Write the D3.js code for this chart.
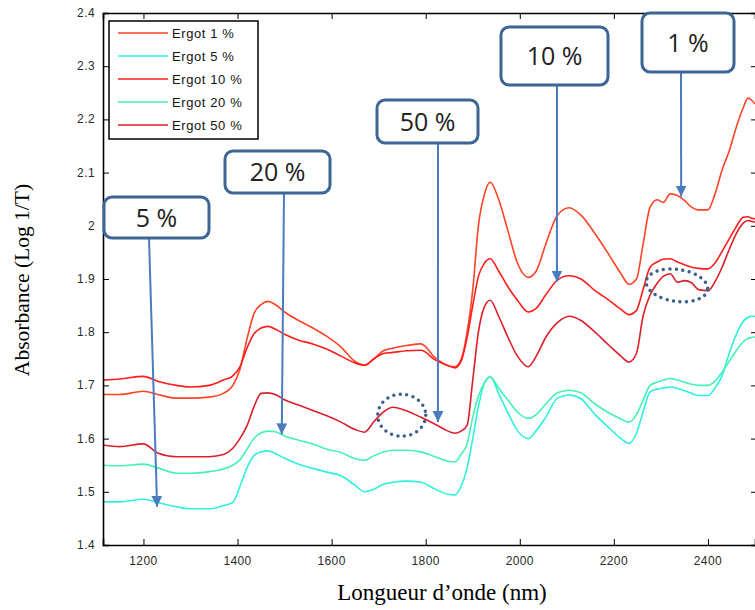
<!DOCTYPE html>
<html>
<head>
<meta charset="utf-8">
<script src="https://cdnjs.cloudflare.com/ajax/libs/d3/7.8.5/d3.min.js"></script>
<style>
	body { margin: 0; background: #fff; }
	svg { display: block; }
</style>
</head>
<body>
<svg id="chart" width="755" height="610"></svg>
<script>
// 波长 (nm)，所有曲线共用
var wavelengths = [1114, 1150, 1200, 1230, 1270, 1300, 1340, 1370, 1390, 1405, 1420, 1435, 1450, 1465, 1480, 1500, 1530, 1560, 1590, 1620,
	1650, 1670, 1690, 1710, 1730, 1760, 1790, 1820, 1845, 1862, 1875, 1888, 1900, 1912, 1925, 1937, 1955, 1975, 1995, 2018,
	2035, 2055, 2080, 2105, 2130, 2160, 2190, 2215, 2232, 2248, 2262, 2277, 2292, 2305, 2320, 2335, 2350, 2365, 2380, 2400,
	2415, 2430, 2445, 2460, 2475, 2485, 2493, 2500];

var ergot1 = [1.683, 1.683, 1.689, 1.683, 1.676, 1.676, 1.678, 1.685, 1.700, 1.730, 1.787, 1.835, 1.852, 1.858, 1.852, 1.838, 1.822, 1.808, 1.792, 1.772,
	1.745, 1.738, 1.750, 1.765, 1.770, 1.775, 1.778, 1.752, 1.738, 1.735, 1.748, 1.800, 1.880, 2.000, 2.060, 2.082, 2.050, 1.990, 1.930, 1.903,
	1.915, 1.965, 2.020, 2.034, 2.020, 1.985, 1.945, 1.910, 1.890, 1.900, 1.965, 2.035, 2.049, 2.044, 2.060, 2.057, 2.048, 2.035, 2.030, 2.030,
	2.060, 2.105, 2.140, 2.185, 2.222, 2.240, 2.236, 2.229];

var ergot5 = [1.481, 1.481, 1.486, 1.480, 1.472, 1.468, 1.468, 1.474, 1.480, 1.510, 1.545, 1.568, 1.575, 1.577, 1.572, 1.563, 1.552, 1.544, 1.537, 1.530,
	1.512, 1.500, 1.505, 1.514, 1.518, 1.520, 1.518, 1.505, 1.496, 1.494, 1.510, 1.545, 1.600, 1.660, 1.705, 1.716, 1.685, 1.648, 1.615, 1.600,
	1.615, 1.640, 1.676, 1.682, 1.675, 1.645, 1.620, 1.600, 1.591, 1.610, 1.650, 1.688, 1.693, 1.695, 1.697, 1.694, 1.690, 1.685, 1.681, 1.681,
	1.695, 1.718, 1.760, 1.795, 1.820, 1.828, 1.830, 1.830];

var ergot10 = [1.710, 1.712, 1.717, 1.708, 1.700, 1.697, 1.700, 1.710, 1.718, 1.735, 1.770, 1.797, 1.808, 1.811, 1.806, 1.796, 1.785, 1.778, 1.768, 1.755,
	1.742, 1.738, 1.750, 1.760, 1.762, 1.765, 1.766, 1.748, 1.738, 1.733, 1.745, 1.790, 1.850, 1.905, 1.930, 1.938, 1.915, 1.885, 1.860, 1.838,
	1.845, 1.870, 1.898, 1.906, 1.900, 1.878, 1.860, 1.843, 1.833, 1.841, 1.880, 1.922, 1.932, 1.937, 1.938, 1.932, 1.927, 1.922, 1.920, 1.919,
	1.930, 1.952, 1.975, 1.998, 2.016, 2.017, 2.014, 2.013];

var ergot20 = [1.550, 1.549, 1.552, 1.545, 1.535, 1.535, 1.538, 1.543, 1.550, 1.560, 1.580, 1.600, 1.611, 1.614, 1.613, 1.605, 1.597, 1.590, 1.580, 1.574,
	1.562, 1.559, 1.568, 1.575, 1.578, 1.578, 1.575, 1.566, 1.558, 1.556, 1.570, 1.590, 1.640, 1.680, 1.705, 1.716, 1.695, 1.672, 1.650, 1.638,
	1.645, 1.665, 1.686, 1.691, 1.686, 1.665, 1.648, 1.637, 1.631, 1.645, 1.672, 1.700, 1.706, 1.710, 1.713, 1.710, 1.706, 1.702, 1.700, 1.700,
	1.708, 1.725, 1.745, 1.765, 1.782, 1.788, 1.790, 1.791];

var ergot50 = [1.588, 1.585, 1.590, 1.573, 1.566, 1.566, 1.566, 1.570, 1.582, 1.600, 1.624, 1.660, 1.685, 1.686, 1.683, 1.673, 1.663, 1.653, 1.643, 1.631,
	1.617, 1.612, 1.632, 1.650, 1.659, 1.652, 1.640, 1.627, 1.615, 1.610, 1.614, 1.625, 1.710, 1.800, 1.848, 1.860, 1.830, 1.790, 1.755, 1.735,
	1.755, 1.790, 1.818, 1.830, 1.822, 1.800, 1.775, 1.755, 1.744, 1.760, 1.830, 1.870, 1.892, 1.905, 1.910, 1.894, 1.897, 1.893, 1.880, 1.878,
	1.895, 1.922, 1.955, 1.985, 2.005, 2.010, 2.008, 2.007];

var seriesNames = ["Ergot 1 %", "Ergot 5 %", "Ergot 10 %", "Ergot 20 %", "Ergot 50 %"];
var seriesValues = [ergot1, ergot5, ergot10, ergot20, ergot50];

var xTicks = [1200, 1400, 1600, 1800, 2000, 2200, 2400];
var xTickLabels = ["1200", "1400", "1600", "1800", "2000", "2200", "2400"];
var yTicks = [1.4, 1.5, 1.6, 1.7, 1.8, 1.9, 2.0, 2.1, 2.2, 2.3, 2.4];
var yTickLabels = ["1.4", "1.5", "1.6", "1.7", "1.8", "1.9", "2", "2.1", "2.2", "2.3", "2.4"];

// 标注：文字与箭头指向的点 (波长, 吸光度)
var calloutLabels = ["5 %", "20 %", "50 %", "10 %", "1 %"];
var calloutTargets = [[1229, 1.472], [1494, 1.608], [1826, 1.631], [2079, 1.895], [2343, 2.055]];
// 虚线圈的中心 (波长, 吸光度)
var circleCenters = [[1749, 1.644], [2334, 1.888]];

var svg = d3.select("#chart");

var x = d3.scaleLinear().domain([1114, 2500]).range([103, 755]);
var y = d3.scaleLinear().domain([1.4, 2.4]).range([545, 13]);

var colors = ["#ff4326", "#2ff0e0", "#ff1c1c", "#45f2b2", "#dc1f2b"];

// 曲线
var line = d3.line()
	.curve(d3.curveMonotoneX)
	.x(function (d) { return x(d[0]); })
	.y(function (d) { return y(d[1]); });

seriesValues.forEach(function (vals, i) {
	svg.append("path")
		.datum(wavelengths.map(function (w, j) { return [w, vals[j]]; }))
		.attr("d", line)
		.attr("fill", "none")
		.attr("stroke", colors[i])
		.attr("stroke-width", 1.6);
});

// 坐标轴（刻度朝内）
var axisFont = "'Liberation Sans', Arial, sans-serif";
svg.append("g")
	.attr("transform", "translate(0,545)")
	.call(d3.axisTop(x).tickValues(xTicks).tickSize(6).tickFormat(""))
	.call(function (g) { g.select(".domain").attr("stroke-width", 1.6); });
svg.append("g")
	.attr("transform", "translate(0,13)")
	.call(d3.axisBottom(x).tickValues(xTicks).tickSize(6).tickFormat(""))
	.call(function (g) { g.select(".domain").attr("stroke-width", 1.6); });
svg.append("g")
	.attr("transform", "translate(103,0)")
	.call(d3.axisRight(y).tickValues(yTicks).tickSize(6).tickFormat(""))
	.call(function (g) { g.select(".domain").attr("stroke-width", 1.6); });
svg.append("g")
	.attr("transform", "translate(757,0)")
	.call(d3.axisLeft(y).tickValues(yTicks).tickSize(6).tickFormat(""))
	.call(function (g) { g.select(".domain").attr("stroke-width", 1.6); });

svg.selectAll(".xlab")
	.data(xTicks)
	.enter().append("text")
	.attr("x", function (d) { return x(d); })
	.attr("y", 565)
	.attr("text-anchor", "middle")
	.attr("font-family", axisFont)
	.attr("font-size", 12)
	.attr("letter-spacing", 0.4)
	.attr("fill", "#2a2a2a")
	.text(function (d, i) { return xTickLabels[i]; });

svg.selectAll(".ylab")
	.data(yTicks)
	.enter().append("text")
	.attr("x", 95)
	.attr("y", function (d) { return y(d) + 4; })
	.attr("text-anchor", "end")
	.attr("font-family", axisFont)
	.attr("font-size", 12)
	.attr("letter-spacing", 0.4)
	.attr("fill", "#2a2a2a")
	.text(function (d, i) { return yTickLabels[i]; });

// 轴标题
svg.append("text")
	.attr("x", 442)
	.attr("y", 600)
	.attr("text-anchor", "middle")
	.attr("font-family", "'Liberation Serif', 'Times New Roman', serif")
	.attr("font-size", 23)
	.text("Longueur d’onde (nm)");
svg.append("text")
	.attr("transform", "translate(29,280) rotate(-90)")
	.attr("text-anchor", "middle")
	.attr("font-family", "'Liberation Serif', 'Times New Roman', serif")
	.attr("font-size", 21.5)
	.text("Absorbance (Log 1/T)");

// 图例
var legend = svg.append("g");
legend.append("rect")
	.attr("x", 109).attr("y", 21).attr("width", 149).attr("height", 118)
	.attr("fill", "#fff").attr("stroke", "#000").attr("stroke-width", 1.5);
seriesNames.forEach(function (name, i) {
	var ly = 33 + i * 23;
	legend.append("line")
		.attr("x1", 118).attr("x2", 168).attr("y1", ly).attr("y2", ly)
		.attr("stroke", colors[i]).attr("stroke-width", 1.6);
	legend.append("text")
		.attr("x", 172).attr("y", ly + 5)
		.attr("font-family", axisFont)
		.attr("font-size", 13)
		.attr("letter-spacing", 0.6)
		.attr("fill", "#111")
		.text(name);
});

// 箭头标记
svg.append("defs").append("marker")
	.attr("id", "arrow")
	.attr("markerUnits", "userSpaceOnUse")
	.attr("viewBox", "0 0 10 10")
	.attr("refX", 10).attr("refY", 5)
	.attr("markerWidth", 11).attr("markerHeight", 11)
	.attr("orient", "auto")
	.append("path")
	.attr("d", "M0,0 L10,5 L0,10 Z")
	.attr("fill", "#4a7bbd");

// 标注框的位置（像素）
var boxes = [
	{ x: 104, y: 197, w: 105, h: 41, sx: 149 },
	{ x: 225, y: 151, w: 105, h: 42, sx: 284 },
	{ x: 377, y: 100, w: 101, h: 43, sx: 438 },
	{ x: 501, y: 27, w: 107, h: 58, sx: 557 },
	{ x: 642, y: 13, w: 92, h: 59, sx: 681 }
];

calloutLabels.forEach(function (label, i) {
	var b = boxes[i];
	svg.append("line")
		.attr("x1", b.sx).attr("y1", b.y + b.h)
		.attr("x2", x(calloutTargets[i][0])).attr("y2", y(calloutTargets[i][1]))
		.attr("stroke", "#4a7bbd").attr("stroke-width", 2)
		.attr("marker-end", "url(#arrow)");
	svg.append("rect")
		.attr("x", b.x).attr("y", b.y).attr("width", b.w).attr("height", b.h)
		.attr("rx", 8).attr("ry", 8)
		.attr("fill", "#fff")
		.attr("stroke", "#3d6595").attr("stroke-width", 3);
	svg.append("text")
		.attr("x", b.x + b.w / 2).attr("y", b.y + b.h / 2 + 9)
		.attr("text-anchor", "middle")
		.attr("font-family", "'Open Sans', 'Liberation Sans', sans-serif")
		.attr("font-size", 25)
		.attr("fill", "#222")
		.text(label);
});

// 虚线圈
var circleSizes = [[24, 21, 0], [31, 16, 8]];
circleCenters.forEach(function (c, i) {
	svg.append("ellipse")
		.attr("transform", "translate(" + x(c[0]) + "," + y(c[1]) + ") rotate(" + circleSizes[i][2] + ")")
		.attr("rx", circleSizes[i][0]).attr("ry", circleSizes[i][1])
		.attr("fill", "none")
		.attr("stroke", "#3c5f8c")
		.attr("stroke-width", 3.5)
		.attr("stroke-linecap", "round")
		.attr("stroke-dasharray", "0,6.5");
});
</script>
</body>
</html>
